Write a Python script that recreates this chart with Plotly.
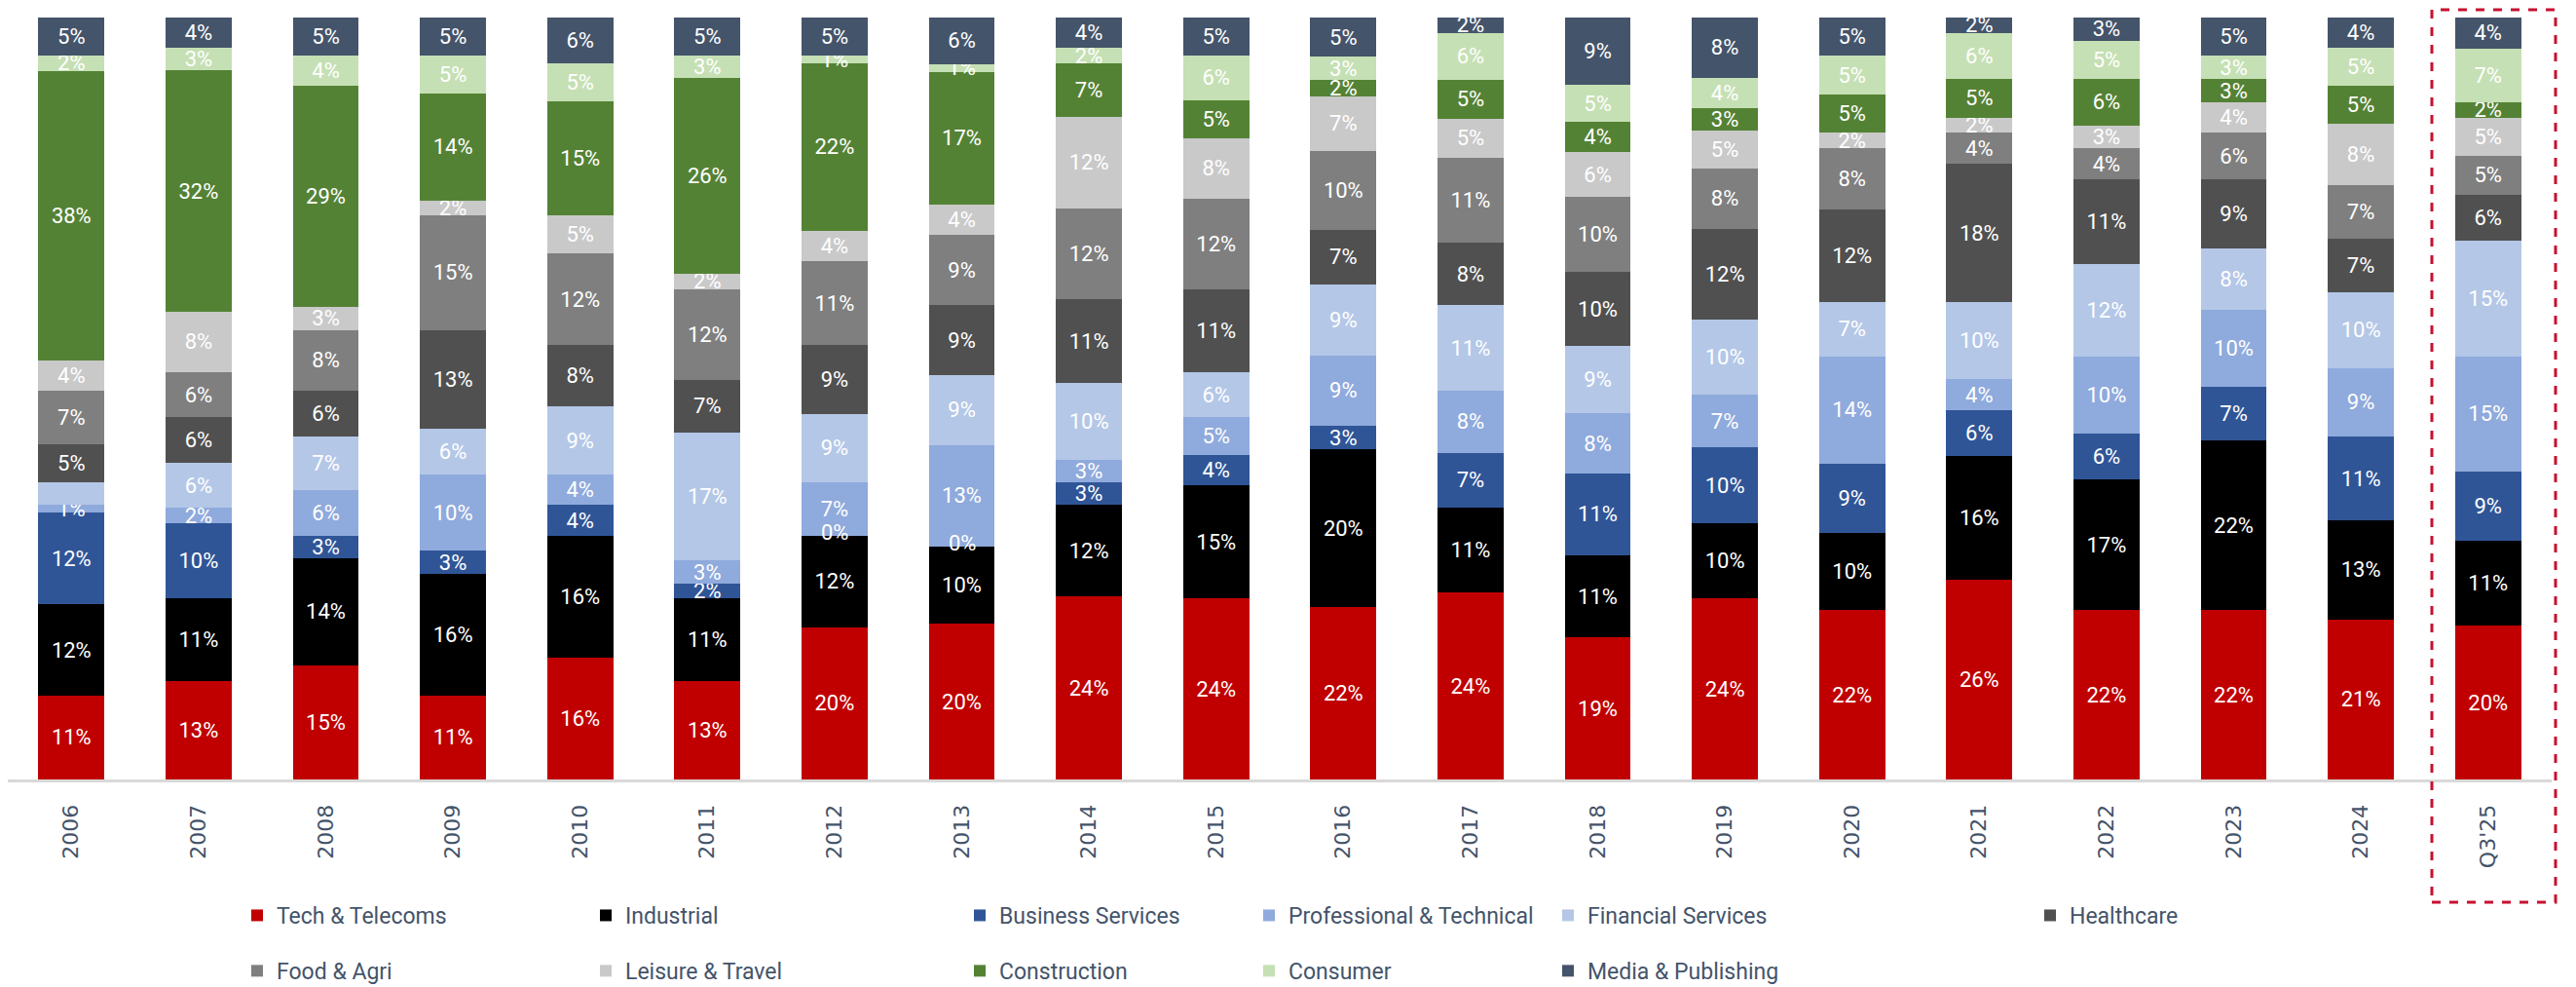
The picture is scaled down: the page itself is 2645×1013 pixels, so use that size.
"""
Share of deals by sector, 2006 - Q3'25, as 100% stacked columns.
"""

import plotly.graph_objects as go

periods = ["2006", "2007", "2008", "2009", "2010", "2011", "2012", "2013", "2014", "2015",
           "2016", "2017", "2018", "2019", "2020", "2021", "2022", "2023", "2024", "Q3'25"]

# values in %, bottom of the stack first
tech = [11, 13, 15, 11, 16, 13, 20, 20, 24, 24, 22, 24, 19, 24, 22, 26, 22, 22, 21, 20]
industrial = [12, 11, 14, 16, 16, 11, 12, 10, 12, 15, 20, 11, 11, 10, 10, 16, 17, 22, 13, 11]
business = [12, 10, 3, 3, 4, 2, 0, 0, 3, 4, 3, 7, 11, 10, 9, 6, 6, 7, 11, 9]
professional = [1, 2, 6, 10, 4, 3, 7, 13, 3, 5, 9, 8, 8, 7, 14, 4, 10, 10, 9, 15]
financial = [3, 6, 7, 6, 9, 17, 9, 9, 10, 6, 9, 11, 9, 10, 7, 10, 12, 8, 10, 15]
healthcare = [5, 6, 6, 13, 8, 7, 9, 9, 11, 11, 7, 8, 10, 12, 12, 18, 11, 9, 7, 6]
food = [7, 6, 8, 15, 12, 12, 11, 9, 12, 12, 10, 11, 10, 8, 8, 4, 4, 6, 7, 5]
leisure = [4, 8, 3, 2, 5, 2, 4, 4, 12, 8, 7, 5, 6, 5, 2, 2, 3, 4, 8, 5]
construction = [38, 32, 29, 14, 15, 26, 22, 17, 7, 5, 2, 5, 4, 3, 5, 5, 6, 3, 5, 2]
consumer = [2, 3, 4, 5, 5, 3, 1, 1, 2, 6, 3, 6, 5, 4, 5, 6, 5, 3, 5, 7]
media = [5, 4, 5, 5, 6, 5, 5, 6, 4, 5, 5, 2, 9, 8, 5, 2, 3, 5, 4, 4]

sectors = [
    ("Tech & Telecoms", tech, "#C00000"),
    ("Industrial", industrial, "#000000"),
    ("Business Services", business, "#2F5597"),
    ("Professional & Technical", professional, "#8FAADC"),
    ("Financial Services", financial, "#B4C7E7"),
    ("Healthcare", healthcare, "#505050"),
    ("Food & Agri", food, "#7F7F7F"),
    ("Leisure & Travel", leisure, "#C9C9C9"),
    ("Construction", construction, "#548235"),
    ("Consumer", consumer, "#C5E0B4"),
    ("Media & Publishing", media, "#44546A"),
]

# labels that are not shown on the chart
hidden = {("Financial Services", "2006")}

# which legend column each sector sits in (two rows)
legend_of = {
    "Tech & Telecoms": "legend", "Food & Agri": "legend",
    "Industrial": "legend2", "Leisure & Travel": "legend2",
    "Business Services": "legend3", "Construction": "legend3",
    "Professional & Technical": "legend4", "Consumer": "legend4",
    "Financial Services": "legend5", "Media & Publishing": "legend5",
    "Healthcare": "legend6",
}

label_font = "Liberation Sans Narrow, Arial Narrow, Roboto, sans-serif"
text_grey = "#44546A"

W, H = 2645, 1013
# the page body adds an 8px margin, so targets below are page pixels
body = 8
plot_l, plot_r, plot_t, plot_b = 8, 2620, 18, 800


def px_x(v):
    return (v - plot_l) / (plot_r - plot_l)


def px_y(v):
    return (plot_b - v) / (plot_b - plot_t)


fig = go.Figure()

for name, vals, colour in sectors:
    labels = ["" if (name, p) in hidden else f"{v}%" for p, v in zip(periods, vals)]
    fig.add_trace(go.Bar(
        x=periods, y=vals, name=name,
        marker=dict(color=colour, line=dict(width=0)),
        text=labels, textposition="inside", insidetextanchor="middle",
        textangle=0, textfont=dict(color="white", size=22, family=label_font),
        legend=legend_of[name], legendgroup=name,
        hoverinfo="x+name+text",
    ))

# zero-height segments still carry a "0%" label at their place in the stack
# (x given as the category index: "2012" as a string would be read as a number)
totals = [sum(s[1][i] for s in sectors) for i in range(len(periods))]
for k, (name, vals, colour) in enumerate(sectors):
    for i, v in enumerate(vals):
        if v == 0:
            below = sum(s[1][i] for s in sectors[:k])
            fig.add_annotation(x=i, y=below / totals[i] * 100, text="0%",
                               showarrow=False, yshift=3,
                               font=dict(color="white", size=22, family=label_font))

# dashed box round the latest period (paper coords so it is not clipped)
fig.add_shape(type="rect", xref="paper", yref="paper",
              x0=px_x(2497), x1=px_x(2624), y0=px_y(926), y1=px_y(10),
              line=dict(color="#C8102E", width=3, dash="dash"),
              fillcolor="rgba(0,0,0,0)", layer="above")

leg_style = dict(orientation="v", xanchor="left", yanchor="top",
                 font=dict(family=label_font, size=23, color=text_grey),
                 bgcolor="rgba(0,0,0,0)", tracegroupgap=24, itemwidth=30)
leg_cols = [244, 602, 986, 1283, 1590, 2085]
legends = {}
for i, lx in enumerate(leg_cols):
    key = "legend" if i == 0 else f"legend{i + 1}"
    legends[key] = dict(leg_style, x=px_x(lx), y=px_y(918))

fig.update_layout(
    width=W, height=H,
    margin=dict(l=plot_l - body, r=W - plot_r + body, t=plot_t - body,
                b=H - plot_b + body, autoexpand=False),
    barmode="stack", barnorm="percent", bargap=0.48,
    plot_bgcolor="white", paper_bgcolor="white",
    uniformtext=dict(minsize=22, mode="show"),
    showlegend=True,
    xaxis=dict(type="category", range=[-0.5, len(periods) - 0.5], tickangle=-90,
               tickfont=dict(family="DejaVu Sans", size=22, color=text_grey),
               showline=True, linecolor="#D9D9D9", linewidth=3, ticks="",
               ticklabelstandoff=14, showgrid=False),
    yaxis=dict(range=[0, 100], visible=False, showgrid=False),
    **legends,
)

fig.write_html("out.html")
